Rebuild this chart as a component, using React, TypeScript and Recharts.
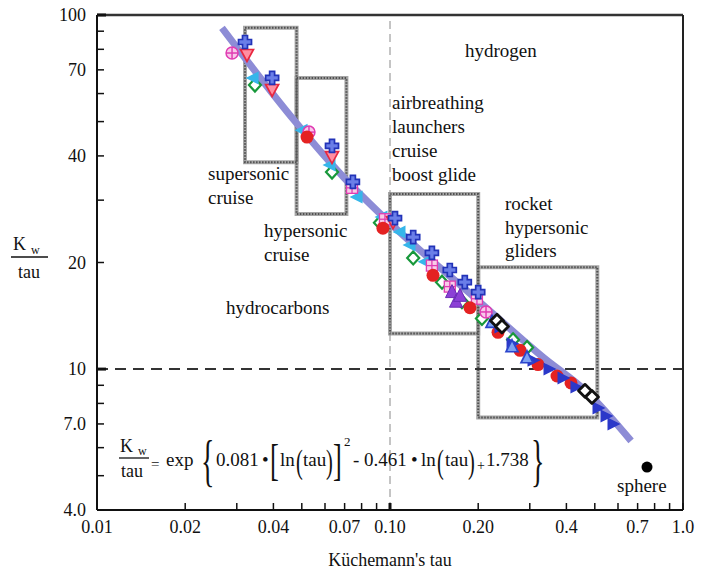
import { ComposedChart, Scatter, XAxis, YAxis, ReferenceLine, ReferenceArea } from 'recharts';

type Pt = [number, number];

const SERIF = 'Liberation Serif, Times New Roman, serif';

// axis ticks (log scales)
const X_TICKS = [0.01, 0.02, 0.03, 0.04, 0.05, 0.06, 0.07, 0.08, 0.09, 0.1, 0.2, 0.3, 0.4, 0.5, 0.6, 0.7, 0.8, 0.9, 1];
const X_TICK_LABELS: [number, string][] = [
  [0.01, '0.01'], [0.02, '0.02'], [0.04, '0.04'], [0.07, '0.07'], [0.1, '0.10'],
  [0.2, '0.20'], [0.4, '0.4'], [0.7, '0.7'], [1, '1.0'],
];
const Y_TICKS = [4, 5, 6, 7, 8, 9, 10, 20, 30, 40, 50, 60, 70, 80, 90, 100];
const Y_TICK_LABELS: [number, string][] = [
  [4, '4.0'], [7, '7.0'], [10, '10'], [20, '20'], [40, '40'], [70, '70'], [100, '100'],
];

// [tau, Kw/tau]
const FIT_CURVE: Pt[] = [
  [0.0267, 92.0], [0.047, 50.5], [0.0697, 34.7], [0.0992, 26.0],
  [0.195, 15.9], [0.333, 10.8], [0.474, 8.56], [0.665, 6.27],
];
const BLUE_CROSS: Pt[] = [
  [0.032, 83.9], [0.0396, 66.4], [0.0634, 42.7], [0.0747, 33.8], [0.104, 26.7],
  [0.12, 23.6], [0.139, 21.3], [0.16, 19.05], [0.18, 17.6], [0.2, 16.5],
];
const RED_DOWN_TRIANGLE: Pt[] = [[0.0325, 77.1], [0.0396, 61.4], [0.0634, 39.7], [0.1024, 26.0]];
const PINK_CIRCLE: Pt[] = [[0.0289, 78.1], [0.0529, 46.7], [0.2127, 14.5]];
const PINK_SQUARE: Pt[] = [[0.0742, 32.5], [0.0961, 26.5], [0.139, 19.6], [0.16, 17.1], [0.198, 15.8]];
const GREEN_DIAMOND: Pt[] = [
  [0.0346, 63.4], [0.0634, 36.0], [0.0924, 25.9], [0.12, 20.6], [0.1505, 17.6],
  [0.176, 15.5], [0.206, 13.9], [0.263, 12.1], [0.2935, 11.5],
];
const CYAN_TRIANGLE: Pt[] = [
  [0.0341, 66.4], [0.0501, 47.3], [0.0624, 37.7], [0.0772, 30.6],
  [0.0939, 26.9], [0.1082, 24.4], [0.117, 22.4], [0.1317, 20.1],
];
const RED_CIRCLE: Pt[] = [
  [0.0521, 45.2], [0.0946, 25.0], [0.1402, 18.4], [0.1875, 14.9], [0.2337, 12.7],
  [0.2779, 11.3], [0.32, 10.3], [0.3715, 9.56], [0.4147, 9.14],
];
const PURPLE_TRIANGLE: Pt[] = [[0.1628, 16.5], [0.168, 15.5], [0.1734, 16.1]];
const BLUE_TRIANGLE: Pt[] = [
  [0.2373, 13.15], [0.2609, 11.8], [0.3076, 10.6], [0.3488, 10.0], [0.3895, 9.44],
  [0.4312, 8.9], [0.5128, 7.77], [0.5461, 7.37], [0.577, 7.0],
];
const OPEN_TRIANGLE: Pt[] = [[0.2229, 13.6], [0.2609, 11.6], [0.2935, 10.8]];
const BLACK_DIAMOND: Pt[] = [[0.2318, 13.7], [0.2411, 13.2], [0.4629, 8.68], [0.4891, 8.34]];
const SPHERE: Pt[] = [[0.7536, 5.29]];

// mission boxes: tau range x Kw/tau range
const BOXES = [
  { x1: 0.032, x2: 0.048, y1: 38.4, y2: 92 },
  { x1: 0.048, x2: 0.071, y1: 27.4, y2: 66.4 },
  { x1: 0.1, x2: 0.2, y1: 12.6, y2: 31.2 },
  { x1: 0.2, x2: 0.51, y1: 7.3, y2: 19.4 },
];

const toPts = (arr: Pt[]) => arr.map(([tau, kw]) => ({ tau, kw }));

const labelFor = (list: [number, string][], v: number) => {
  const hit = list.find(([k]) => Math.abs(k - v) < 1e-9);
  return hit ? hit[1] : null;
};

const XTick = (props: any) => {
  const { x, y, payload } = props;
  const v = payload.value;
  const lbl = labelFor(X_TICK_LABELS, v);
  const major = Math.abs(v - 0.1) < 1e-9;
  return (
    <g>
      <line x1={x} x2={x} y1={y} y2={y - 7} stroke="#111" strokeWidth={major ? 3 : 1.5} />
      {lbl && (
        <text x={x} y={y + 23} textAnchor="middle" fontSize={18} style={{ fontFamily: SERIF }} fill="#111">
          {lbl}
        </text>
      )}
    </g>
  );
};

const YTick = (props: any) => {
  const { x, y, payload } = props;
  const v = payload.value;
  const lbl = labelFor(Y_TICK_LABELS, v);
  const major = v === 10 || v === 100;
  return (
    <g>
      <line x1={x} x2={x + (major ? 9 : 7)} y1={y} y2={y} stroke="#111" strokeWidth={major ? 3 : 1.5} />
      {lbl && (
        <text x={x - 11} y={y + 6} textAnchor="end" fontSize={18} style={{ fontFamily: SERIF }} fill="#111">
          {lbl}
        </text>
      )}
    </g>
  );
};

// marker shapes
const Cross = ({ cx, cy }: any) => {
  const a = 2.5, l = 6.5;
  const d = `M${cx - a},${cy - l}H${cx + a}V${cy - a}H${cx + l}V${cy + a}H${cx + a}V${cy + l}H${cx - a}V${cy + a}H${cx - l}V${cy - a}H${cx - a}Z`;
  return <path d={d} fill="#6a7ee8" stroke="#2233b8" strokeWidth={1.7} />;
};
const DownTriangle = ({ cx, cy }: any) => (
  <polygon points={`${cx - 6.5},${cy - 5.5} ${cx + 6.5},${cy - 5.5} ${cx},${cy + 6.5}`} fill="#ff8ea2" stroke="#e8283f" strokeWidth={1.7} />
);
const CirclePlus = ({ cx, cy }: any) => (
  <g stroke="#e03cb2" strokeWidth={1.5}>
    <circle cx={cx} cy={cy} r={6} fill="#f8c8ea" />
    <line x1={cx - 6} x2={cx + 6} y1={cy} y2={cy} />
    <line x1={cx} x2={cx} y1={cy - 6} y2={cy + 6} />
  </g>
);
const GridSquare = ({ cx, cy }: any) => (
  <g stroke="#e03cb2" strokeWidth={1.3}>
    <rect x={cx - 5.5} y={cy - 5.5} width={11} height={11} fill="#f8cce8" />
    <line x1={cx - 5.5} x2={cx + 5.5} y1={cy} y2={cy} />
    <line x1={cx} x2={cx} y1={cy - 5.5} y2={cy + 5.5} />
  </g>
);
const Diamond = ({ cx, cy }: any) => (
  <polygon points={`${cx},${cy - 6.5} ${cx + 6},${cy} ${cx},${cy + 6.5} ${cx - 6},${cy}`} fill="#fff" stroke="#17983a" strokeWidth={2.2} />
);
const LeftTriangle = ({ cx, cy }: any) => (
  <polygon points={`${cx - 7.5},${cy} ${cx + 5.5},${cy - 6.5} ${cx + 5.5},${cy + 6.5}`} fill="#36b6ea" />
);
const Dot = ({ cx, cy }: any) => <circle cx={cx} cy={cy} r={6.5} fill="#e42222" />;
const UpTriangle = ({ cx, cy }: any) => (
  <polygon points={`${cx},${cy - 7.5} ${cx + 6.5},${cy + 5.5} ${cx - 6.5},${cy + 5.5}`} fill="#8c40d6" stroke="#6a2cb5" strokeWidth={1} />
);
const RightTriangle = ({ cx, cy }: any) => (
  <polygon points={`${cx + 7.5},${cy} ${cx - 5.5},${cy - 6.5} ${cx - 5.5},${cy + 6.5}`} fill="#2b38c9" />
);
const OpenUpTriangle = ({ cx, cy }: any) => (
  <polygon points={`${cx},${cy - 6.5} ${cx + 6},${cy + 5.5} ${cx - 6},${cy + 5.5}`} fill="#7ea2f2" stroke="#2b45cc" strokeWidth={1.7} />
);
const BlackDiamond = ({ cx, cy }: any) => (
  <polygon points={`${cx},${cy - 6.5} ${cx + 6.5},${cy} ${cx},${cy + 6.5} ${cx - 6.5},${cy}`} fill="#fff" stroke="#111" strokeWidth={2.8} strokeLinejoin="round" />
);
const SphereDot = ({ cx, cy }: any) => <circle cx={cx} cy={cy} r={5.5} fill="#000" />;
const NoMarker = () => <g />;

const SERIES = [
  { name: 'green', data: GREEN_DIAMOND, shape: Diamond },
  { name: 'cyan', data: CYAN_TRIANGLE, shape: LeftTriangle },
  { name: 'pinkCircle', data: PINK_CIRCLE, shape: CirclePlus },
  { name: 'pinkSquare', data: PINK_SQUARE, shape: GridSquare },
  { name: 'redTri', data: RED_DOWN_TRIANGLE, shape: DownTriangle },
  { name: 'cross', data: BLUE_CROSS, shape: Cross },
  { name: 'redDot', data: RED_CIRCLE, shape: Dot },
  { name: 'purple', data: PURPLE_TRIANGLE, shape: UpTriangle },
  { name: 'blueTri', data: BLUE_TRIANGLE, shape: RightTriangle },
  { name: 'openTri', data: OPEN_TRIANGLE, shape: OpenUpTriangle },
  { name: 'black', data: BLACK_DIAMOND, shape: BlackDiamond },
  { name: 'sphere', data: SPHERE, shape: SphereDot },
];

const T = ({ style, ...p }: any) => <text fill="#111" style={{ fontFamily: SERIF, ...style }} {...p} />;

function Annotations() {
  const fs = 19;
  return (
    <svg width={709} height={571} style={{ position: 'absolute', left: 0, top: 0, pointerEvents: 'none' }}>
      {/* y axis title */}
      <T x={13} y={250} fontSize={18}>K</T>
      <T x={31} y={254} fontSize={12}>w</T>
      <line x1={11} x2={48} y1={257} y2={257} stroke="#111" strokeWidth={1.3} />
      <T x={18} y={278} fontSize={18}>tau</T>

      {/* x axis title */}
      <T x={390} y={566} fontSize={18} textAnchor="middle">Küchemann's tau</T>

      {/* region labels */}
      <T x={465} y={57} fontSize={fs}>hydrogen</T>
      <T x={392} y={109} fontSize={fs}>airbreathing</T>
      <T x={392} y={133} fontSize={fs}>launchers</T>
      <T x={392} y={157} fontSize={fs}>cruise</T>
      <T x={392} y={181} fontSize={fs}>boost glide</T>
      <T x={208} y={180} fontSize={fs}>supersonic</T>
      <T x={208} y={204} fontSize={fs}>cruise</T>
      <T x={264} y={237} fontSize={fs}>hypersonic</T>
      <T x={264} y={261} fontSize={fs}>cruise</T>
      <T x={505} y={210} fontSize={fs}>rocket</T>
      <T x={505} y={234} fontSize={fs}>hypersonic</T>
      <T x={505} y={257} fontSize={fs}>gliders</T>
      <T x={226} y={314} fontSize={fs}>hydrocarbons</T>
      <T x={617} y={492} fontSize={fs}>sphere</T>

      {/* fit formula */}
      <T x={120} y={452} fontSize={18}>K</T>
      <T x={138} y={455} fontSize={12}>w</T>
      <line x1={119} x2={149} y1={458} y2={458} stroke="#111" strokeWidth={1.3} />
      <T x={121} y={477} fontSize={18}>tau</T>
      <T x={151} y={469} fontSize={15}>=</T>
      <T x={166} y={466} fontSize={19}>exp</T>
      <T transform="translate(201,480) scale(0.5,1)" fontSize={56}>{'{'}</T>
      <T x={216} y={466} fontSize={19}>0.081</T>
      <T x={262} y={466} fontSize={19}>•</T>
      <T transform="translate(270,475) scale(0.6,1)" fontSize={44}>[</T>
      <T x={280} y={466} fontSize={19}>ln</T>
      <T transform="translate(296,473) scale(0.6,1)" fontSize={34}>(</T>
      <T x={303} y={466} fontSize={19}>tau</T>
      <T transform="translate(326,473) scale(0.6,1)" fontSize={34}>)</T>
      <T transform="translate(333,475) scale(0.6,1)" fontSize={44}>]</T>
      <T x={344} y={446} fontSize={13}>2</T>
      <T x={353} y={466} fontSize={19}>-</T>
      <T x={364} y={466} fontSize={19}>0.461</T>
      <T x={411} y={466} fontSize={19}>•</T>
      <T x={421} y={466} fontSize={19}>ln</T>
      <T transform="translate(437,473) scale(0.6,1)" fontSize={34}>(</T>
      <T x={445} y={466} fontSize={19}>tau</T>
      <T transform="translate(468,473) scale(0.6,1)" fontSize={34}>)</T>
      <T x={477} y={470} fontSize={14}>+</T>
      <T x={486} y={466} fontSize={19}>1.738</T>
      <T transform="translate(531,480) scale(0.5,1)" fontSize={56}>{'}'}</T>
    </svg>
  );
}

export default function App() {
  return (
    <div style={{ position: 'absolute', left: 0, top: 0, width: 709, height: 571, background: '#fff' }}>
      <ComposedChart width={709} height={571} margin={{ top: 15, right: 26, bottom: 31, left: 37 }}>
        <XAxis
          type="number"
          dataKey="tau"
          scale="log"
          domain={[0.01, 1]}
          allowDataOverflow
          ticks={X_TICKS}
          interval={0}
          tickSize={0}
          tickMargin={0}
          tickLine={false}
          tick={XTick}
          axisLine={{ stroke: '#111', strokeWidth: 2 }}
          height={30}
        />
        <YAxis
          type="number"
          dataKey="kw"
          scale="log"
          domain={[4, 100]}
          allowDataOverflow
          ticks={Y_TICKS}
          interval={0}
          tickSize={0}
          tickMargin={0}
          tickLine={false}
          tick={YTick}
          axisLine={{ stroke: '#111', strokeWidth: 2 }}
          width={60}
        />
        {/* chain-like grey box outlines: light base with a darker dotted pass */}
        {BOXES.map((b, i) => (
          <ReferenceArea
            key={`base-${i}`}
            x1={b.x1}
            x2={b.x2}
            y1={b.y1}
            y2={b.y2}
            fill="none"
            fillOpacity={0}
            stroke="#a6a6a6"
            strokeWidth={4}
            ifOverflow="visible"
          />
        ))}
        {BOXES.map((b, i) => (
          <ReferenceArea
            key={`dots-${i}`}
            x1={b.x1}
            x2={b.x2}
            y1={b.y1}
            y2={b.y2}
            fill="none"
            fillOpacity={0}
            stroke="#505050"
            strokeWidth={2}
            strokeDasharray="1.5 1.5"
            ifOverflow="visible"
          />
        ))}
        <ReferenceLine x={0.1} stroke="#8a8a8a" strokeWidth={1} strokeDasharray="8 5" />
        <ReferenceLine y={10} stroke="#333" strokeWidth={2} strokeDasharray="11 7" />
        <ReferenceLine y={100} stroke="#333" strokeWidth={2.5} />
        <ReferenceLine x={1} stroke="#222" strokeWidth={2} />
        <Scatter
          data={toPts(FIT_CURVE)}
          line={{ stroke: '#8d8cd6', strokeWidth: 7 }}
          lineJointType="monotoneX"
          shape={NoMarker}
          isAnimationActive={false}
        />
        {SERIES.map((s) => (
          <Scatter key={s.name} name={s.name} data={toPts(s.data)} shape={s.shape} isAnimationActive={false} />
        ))}
      </ComposedChart>
      <Annotations />
    </div>
  );
}
